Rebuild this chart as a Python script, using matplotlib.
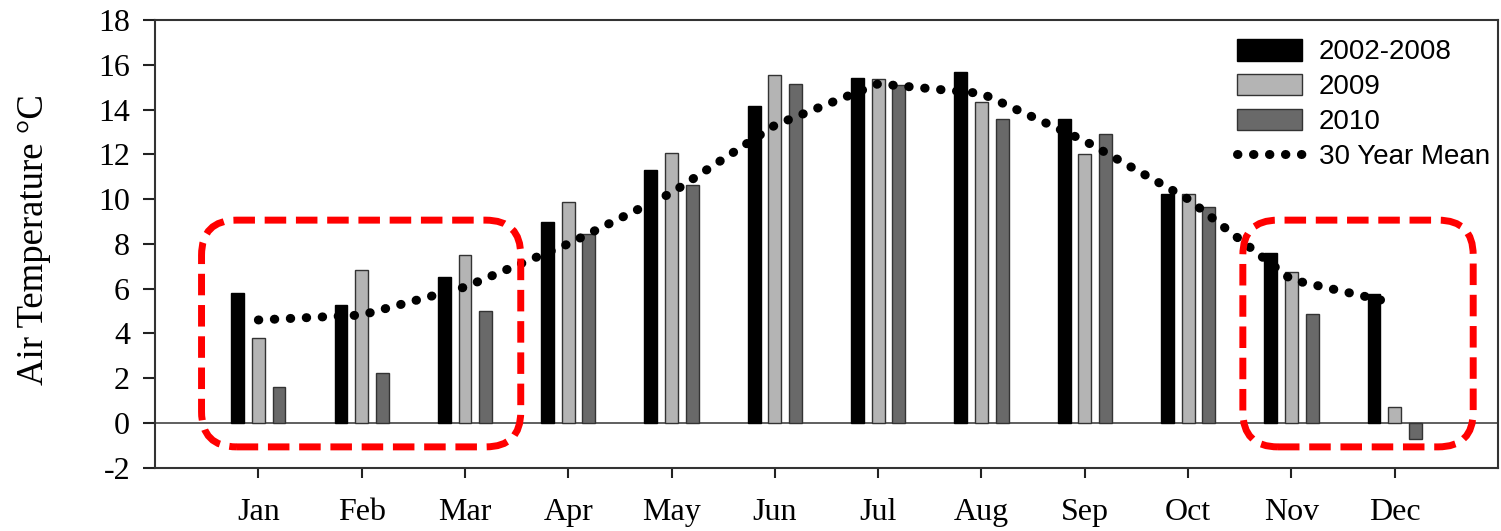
import matplotlib.pyplot as plt
from matplotlib.patches import FancyBboxPatch
import numpy as np

plt.rcParams['axes.unicode_minus'] = False

months = ['Jan', 'Feb', 'Mar', 'Apr', 'May', 'Jun',
          'Jul', 'Aug', 'Sep', 'Oct', 'Nov', 'Dec']

# monthly air temperature, deg C
t_0208 = [5.82, 5.27, 6.53, 8.99, 11.29, 14.15, 15.42, 15.68, 13.57, 10.22, 7.58, 5.74]
t_2009 = [3.78, 6.83, 7.50, 9.88, 12.04, 15.55, 15.36, 14.34, 12.03, 10.21, 6.76, 0.73]
t_2010 = [1.61, 2.22, 5.00, 8.44, 10.65, 15.15, 15.09, 13.58, 12.93, 9.66, 4.85, -0.71]
t_mean = [4.60, 4.82, 6.07, 8.00, 10.28, 13.30, 15.15, 14.72, 12.60, 10.00, 6.40, 5.35]

# red highlight boxes, in month-index units (left, right)
box_spans = [(-0.55, 2.54), (9.53, 11.76)]
box_ylim = (-1.07, 9.06)

x = np.arange(len(months))
w = 0.125

fig = plt.figure(figsize=(15.01, 5.31), dpi=100)
ax = fig.add_axes([0.1033, 0.1192, 0.8947, 0.8431])

ax.axhline(0, color='#444444', lw=1.2, zorder=1)

b1 = ax.bar(x - 0.2, t_0208, w, color='black', edgecolor='black', lw=1, zorder=2)
b2 = ax.bar(x, t_2009, w, color='#b4b4b4', edgecolor='#333333', lw=1, zorder=2)
b3 = ax.bar(x + 0.2, t_2010, w, color='#696969', edgecolor='#333333', lw=1, zorder=2)

ln, = ax.plot(x, t_mean, color='black', lw=6.5, linestyle=(0, (0.05, 1.72)),
              dash_capstyle='round', zorder=3)

# rounded corners stay round despite unequal axis scales
asp = (1 / 22.4) / (1 / 103.3)
for x0, x1 in box_spans:
    box = FancyBboxPatch((x0, box_ylim[0]), x1 - x0, box_ylim[1] - box_ylim[0],
                         boxstyle='round,pad=0,rounding_size=0.34',
                         mutation_aspect=asp, fill=False, edgecolor='red',
                         lw=5, linestyle=(0, (3.1, 1.4)), zorder=4, clip_on=False)
    ax.add_patch(box)

ax.set_xlim(-1.0, 12.0)
ax.set_ylim(-2, 18)
ax.set_yticks(range(-2, 19, 2))
ax.set_xticks(x)
ax.set_xticklabels(months)

for s in ax.spines.values():
    s.set_color('#333333')
    s.set_linewidth(1.5)

ax.tick_params(axis='y', direction='out', length=9, width=1.5, pad=9,
               labelsize=23, colors='#222222')
ax.tick_params(axis='x', direction='out', length=7, width=1.5, pad=15,
               labelsize=23, colors='#222222')
for lab in ax.get_xticklabels() + ax.get_yticklabels():
    lab.set_family('Liberation Serif')
    lab.set_color('black')

ax.set_ylabel('Air Temperature °C', family='Liberation Serif', fontsize=26.5)
ax.yaxis.set_label_coords(-0.0775, 0.51)

ax.legend([b1, b2, b3, ln], ['2002-2008', '2009', '2010', '30 Year Mean'],
          loc='upper right', bbox_to_anchor=(0.994, 0.958), frameon=False,
          prop={'family': 'Liberation Sans', 'size': 20},
          handlelength=2.34, handleheight=0.83, labelspacing=0.3,
          handletextpad=0.6, borderaxespad=0, borderpad=0)

plt.savefig('out.png', dpi=100)
